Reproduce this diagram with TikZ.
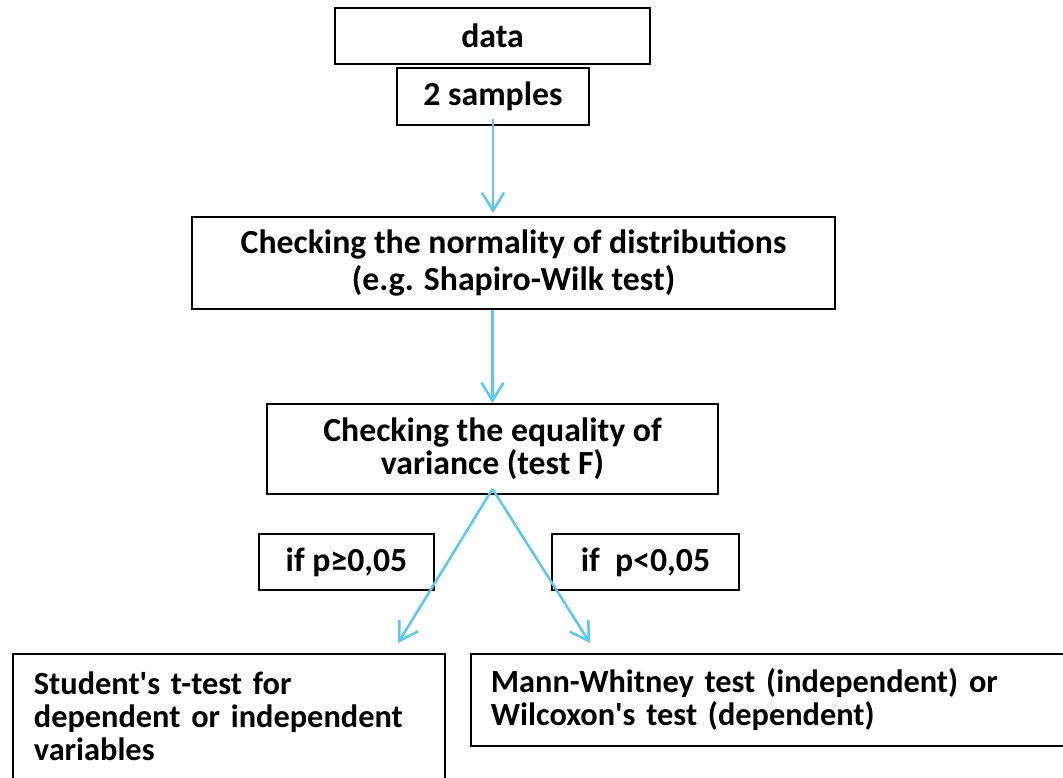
\documentclass[tikz,border=0pt]{standalone}
\usepackage{fontspec}
\setmainfont{Carlito}
\usetikzlibrary{arrows.meta}
\definecolor{arrowblue}{RGB}{90,200,240}
\begin{document}
\begin{tikzpicture}[x=0.025cm,y=-0.025cm,
    box/.style={draw,line width=1.3pt,inner sep=0pt,align=center,
      font=\bfseries\fontsize{24}{23.5}\selectfont},
    flow/.style={draw=arrowblue,line width=1.8pt,
      -{Straight Barb[length=0.45cm,width=0.55cm]}}]
  \useasboundingbox (0,0) rectangle (1063,777);
  \clip (0,0) rectangle (1063,777);

  \node (data)    [box,minimum width=7.875cm,minimum height=1.4cm]   at (492.5,36)  {data};
  \node (samples) [box,minimum width=4.8cm,minimum height=1.425cm]   at (493,96.5)  {2 samples};
  \node (norm)    [box,minimum width=16.075cm,minimum height=2.3cm,
                   font=\bfseries\fontsize{24}{27}\selectfont]        at (513.5,263)
    {Checking the normality of distributions\\(e.g. Shapiro-Wilk test)};
  \node (var)     [box,minimum width=11.275cm,minimum height=2.25cm] at (492.5,449)
    {Checking the equality of\\variance (test F)};
  \node (pge)     [box,minimum width=4.375cm,minimum height=1.4cm]   at (346.5,562) {if p≥0,05};
  \node (plt)     [box,minimum width=4.675cm,minimum height=1.4cm]   at (645.5,562) {if\ \ p<0,05};
  \node (student) [box,anchor=north west,align=left,text width=9.75cm,
                   font=\bfseries\fontsize{23}{23.5}\selectfont,
                   inner xsep=0.525cm,inner ysep=0.45cm,text depth=3cm] at (12,653)
    {Student\textquotesingle s t-test for\\dependent or independent\\variables};
  \node (mann)    [box,anchor=north west,align=left,text width=14.1cm,
                   font=\bfseries\fontsize{23}{23.5}\selectfont,
                   inner xsep=0.5cm,minimum height=2.3cm] at (470,653)
    {Mann-Whitney test (independent) or\\Wilcoxon\textquotesingle s test (dependent)};

  \coordinate (split) at ([yshift=0.15cm]var.south);
  \coordinate (lend)  at (398,643);
  \coordinate (rend)  at (590,643);

  \draw [flow] ([yshift=0.175cm]samples.south) -- ([yshift=0.075cm]norm.north -| samples);
  \draw [flow] (var.north |- norm.south) -- (var.north);
  \draw [flow] (split) -- (lend);
  \draw [flow] (split) -- (rend);
\end{tikzpicture}
\end{document}
